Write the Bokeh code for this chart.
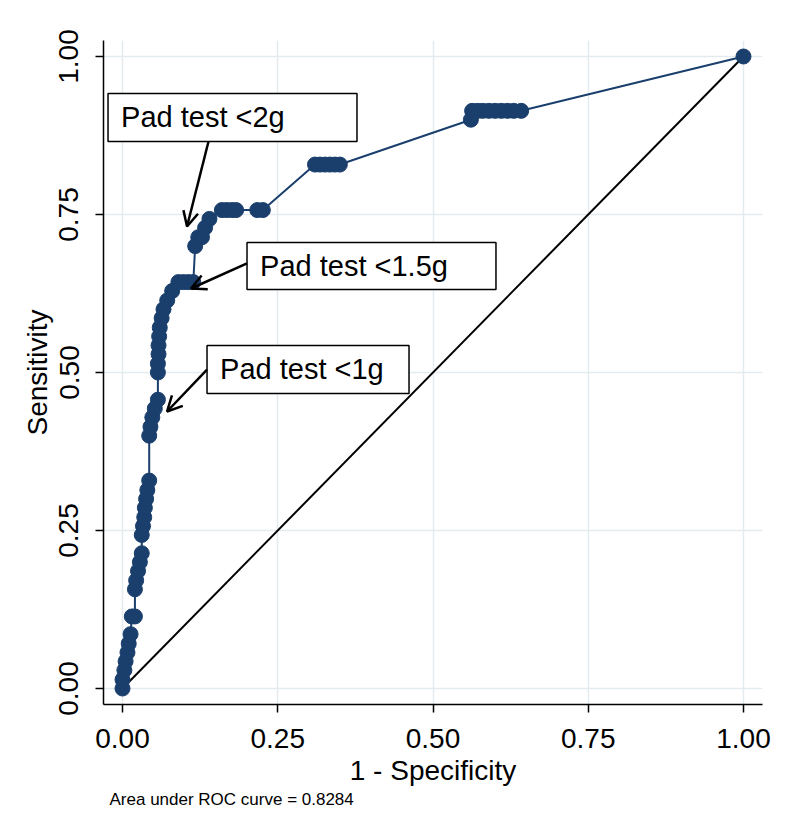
from bokeh.plotting import figure
from bokeh.models import (FixedTicker, NumeralTickFormatter, Arrow, OpenHead,
                          ColumnDataSource, Title, Range1d)
from bokeh.core.properties import value
from bokeh.embed import file_html
from bokeh.resources import INLINE

# ROC curve points (1 - specificity, sensitivity)
fpr = [0.000, 0.000, 0.003, 0.005, 0.008, 0.010, 0.013,
       0.015, 0.020,
       0.020, 0.022, 0.025, 0.028, 0.031,
       0.031, 0.033, 0.035, 0.036, 0.038, 0.040, 0.043,
       0.043, 0.045, 0.048, 0.052, 0.057,
       0.057, 0.057, 0.058, 0.058, 0.059, 0.060, 0.063, 0.066, 0.072, 0.080,
       0.090, 0.098, 0.106, 0.114,
       0.117, 0.122, 0.128, 0.133, 0.140,
       0.160, 0.168, 0.176, 0.183, 0.217, 0.226,
       0.310, 0.318, 0.326, 0.334, 0.342, 0.350,
       0.561, 0.563, 0.572, 0.580, 0.590, 0.600, 0.610, 0.620, 0.630, 0.642,
       1.000]
sens = [0.000, 0.014, 0.029, 0.043, 0.057, 0.071, 0.086,
        0.114, 0.114,
        0.157, 0.171, 0.186, 0.200, 0.214,
        0.243, 0.257, 0.271, 0.286, 0.300, 0.314, 0.329,
        0.400, 0.414, 0.429, 0.443, 0.457,
        0.500, 0.514, 0.529, 0.543, 0.557, 0.571, 0.586, 0.600, 0.614, 0.629,
        0.643, 0.643, 0.643, 0.643,
        0.700, 0.714, 0.714, 0.729, 0.743,
        0.757, 0.757, 0.757, 0.757, 0.757, 0.757,
        0.829, 0.829, 0.829, 0.829, 0.829, 0.829,
        0.900, 0.914, 0.914, 0.914, 0.914, 0.914, 0.914, 0.914, 0.914, 0.914,
        1.000]

ref_x = [0.0, 1.0]
ref_y = [0.0, 1.0]

ticks = [0.0, 0.25, 0.5, 0.75, 1.0]

# annotations: label text, box (left, right, bottom, top), arrow start -> end
ann_text = ["Pad test <2g", "Pad test <1.5g", "Pad test <1g"]
box_left = [-0.0233, 0.2005, 0.1361]
box_right = [0.3776, 0.6014, 0.4614]
box_bottom = [0.8655, 0.6313, 0.4668]
box_top = [0.9415, 0.7057, 0.5427]
arr_x0 = [0.1385, 0.2005, 0.1361]
arr_y0 = [0.8655, 0.6725, 0.5047]
arr_x1 = [0.1039, 0.1103, 0.0717]
arr_y1 = [0.7310, 0.6329, 0.4383]

auc_text = "Area under ROC curve = 0.8284"

FONT = "Liberation Sans"
NAVY = "#1a3f6d"

p = figure(width=784, height=813, output_backend="svg", toolbar_location=None,
           x_range=Range1d(-0.0306, 1.0306), y_range=Range1d(-0.0253, 1.0253),
           min_border_left=103, min_border_right=22, min_border_top=40,
           min_border_bottom=109)
p.outline_line_color = None
p.background_fill_color = "white"

for ax in (p.xaxis[0], p.yaxis[0]):
    ax.ticker = FixedTicker(ticks=ticks)
    ax.formatter = NumeralTickFormatter(format="0.00")
    ax.major_label_text_font = FONT
    ax.major_label_text_font_size = "28px"
    ax.major_label_text_color = "black"
    ax.axis_label_text_font = FONT
    ax.axis_label_text_font_size = "28px"
    ax.axis_label_text_font_style = "normal"
    ax.axis_label_text_color = "black"
    ax.axis_line_color = "black"
    ax.axis_line_width = 1.5
    ax.major_tick_line_color = "black"
    ax.major_tick_line_width = 1.5
    ax.major_tick_out = 8
    ax.major_tick_in = 0
    ax.minor_tick_line_color = None
    ax.major_label_standoff = 16
    ax.axis_label_standoff = 4

p.yaxis.major_label_standoff = 17
p.xaxis.axis_label = "1 - Specificity"
p.yaxis.axis_label = "Sensitivity"
p.yaxis.major_label_orientation = "vertical"

for g in (p.xgrid[0], p.ygrid[0]):
    g.ticker = FixedTicker(ticks=ticks)
    g.grid_line_color = "#e3ebee"
    g.grid_line_width = 1.5

# reference diagonal
p.line(ref_x, ref_y, line_color="black", line_width=2)

# ROC curve
src = ColumnDataSource(dict(x=fpr, y=sens))
p.line("x", "y", source=src, line_color=NAVY, line_width=2)
p.scatter("x", "y", source=src, size=15, fill_color=NAVY, line_color=NAVY)

# annotation boxes
p.quad(left=box_left, right=box_right, bottom=box_bottom, top=box_top,
       fill_color="white", line_color="black", line_width=1.5)
tx = [l + 0.021 for l in box_left]
ty = [(b + t) / 2 for b, t in zip(box_bottom, box_top)]
p.text(x=tx, y=ty, text=ann_text, text_font=value(FONT), text_font_size="29px",
       text_baseline="middle", text_align="left", text_color="black")

for i in range(3):
    p.add_layout(Arrow(end=OpenHead(size=15, line_width=2.5, line_color="black"),
                       x_start=arr_x0[i], y_start=arr_y0[i],
                       x_end=arr_x1[i], y_end=arr_y1[i],
                       line_width=2.5, line_color="black"))

footer = Title(text=auc_text, align="left", text_font=FONT, text_font_size="17px",
               text_font_style="normal", text_color="black", offset=6, standoff=-2)
p.add_layout(footer, "below")

open("out.html", "w").write(file_html(p, INLINE))
